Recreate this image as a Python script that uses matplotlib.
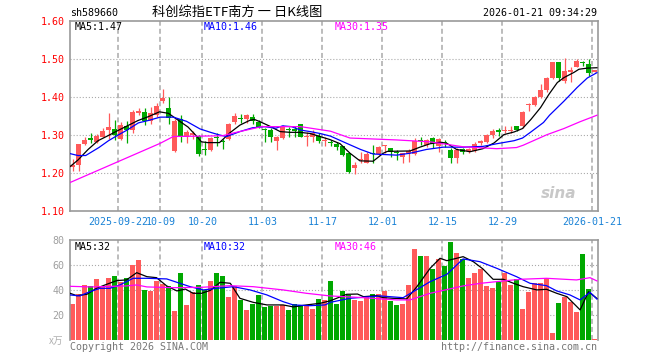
import matplotlib
matplotlib.use('Agg')
import matplotlib.pyplot as plt
import numpy as np

plt.rcParams['font.family'] = ['DejaVu Sans Mono']
plt.rcParams['lines.scale_dashes'] = False

# daily candles, 2025-09-10 .. 2026-01-21
opens = [1.215, 1.221, 1.276, 1.291, 1.282, 1.296, 1.313, 1.316, 1.290, 1.324,
         1.313, 1.357, 1.360, 1.337, 1.353, 1.390, 1.370, 1.258, 1.342, 1.296,
         1.300, 1.297, 1.263, 1.261, 1.296, 1.284, 1.289, 1.335, 1.345, 1.343,
         1.347, 1.335, 1.316, 1.313, 1.285, 1.293, 1.314, 1.316, 1.329, 1.295,
         1.294, 1.297, 1.283, 1.282, 1.276, 1.270, 1.252, 1.212, 1.233, 1.226,
         1.252, 1.249, 1.271, 1.265, 1.254, 1.241, 1.253, 1.249, 1.285, 1.275,
         1.292, 1.270, 1.281, 1.261, 1.239, 1.262, 1.257, 1.257, 1.280, 1.281,
         1.301, 1.311, 1.310, 1.310, 1.323, 1.323, 1.378, 1.379, 1.401, 1.418,
         1.450, 1.491, 1.442, 1.467, 1.480, 1.491, 1.486, 1.467]
highs = [1.236, 1.277, 1.295, 1.305, 1.302, 1.319, 1.358, 1.340, 1.335, 1.338,
         1.366, 1.372, 1.370, 1.374, 1.383, 1.422, 1.401, 1.341, 1.353, 1.313,
         1.310, 1.300, 1.285, 1.295, 1.305, 1.290, 1.332, 1.357, 1.355, 1.354,
         1.356, 1.340, 1.318, 1.318, 1.297, 1.326, 1.322, 1.324, 1.330, 1.309,
         1.313, 1.305, 1.296, 1.287, 1.282, 1.271, 1.253, 1.228, 1.256, 1.254,
         1.274, 1.270, 1.274, 1.266, 1.261, 1.253, 1.262, 1.291, 1.296, 1.289,
         1.296, 1.291, 1.287, 1.265, 1.265, 1.265, 1.266, 1.281, 1.287, 1.302,
         1.317, 1.318, 1.325, 1.325, 1.323, 1.362, 1.383, 1.402, 1.434, 1.453,
         1.491, 1.492, 1.502, 1.480, 1.499, 1.496, 1.499, 1.471]
lows = [1.205, 1.206, 1.273, 1.279, 1.280, 1.294, 1.289, 1.288, 1.287, 1.280,
        1.305, 1.353, 1.326, 1.330, 1.348, 1.383, 1.330, 1.255, 1.281, 1.280,
        1.290, 1.245, 1.248, 1.258, 1.270, 1.262, 1.287, 1.329, 1.331, 1.331,
        1.330, 1.318, 1.282, 1.281, 1.261, 1.290, 1.296, 1.294, 1.294, 1.272,
        1.282, 1.278, 1.272, 1.272, 1.260, 1.244, 1.199, 1.197, 1.226, 1.225,
        1.226, 1.247, 1.252, 1.243, 1.234, 1.226, 1.230, 1.247, 1.274, 1.268,
        1.265, 1.256, 1.269, 1.227, 1.227, 1.251, 1.252, 1.254, 1.273, 1.279,
        1.292, 1.298, 1.305, 1.305, 1.310, 1.319, 1.362, 1.376, 1.398, 1.414,
        1.447, 1.443, 1.437, 1.440, 1.478, 1.481, 1.455, 1.466]
closes = [1.222, 1.276, 1.287, 1.287, 1.298, 1.310, 1.320, 1.300, 1.327, 1.313,
          1.360, 1.364, 1.338, 1.357, 1.377, 1.398, 1.346, 1.338, 1.296, 1.309,
          1.305, 1.250, 1.260, 1.293, 1.292, 1.282, 1.329, 1.351, 1.343, 1.353,
          1.336, 1.320, 1.314, 1.294, 1.296, 1.322, 1.312, 1.311, 1.296, 1.297,
          1.304, 1.283, 1.285, 1.279, 1.268, 1.247, 1.202, 1.221, 1.235, 1.249,
          1.250, 1.269, 1.272, 1.256, 1.252, 1.252, 1.258, 1.285, 1.283, 1.287,
          1.279, 1.289, 1.279, 1.239, 1.261, 1.254, 1.262, 1.276, 1.282, 1.301,
          1.311, 1.309, 1.312, 1.314, 1.312, 1.361, 1.381, 1.401, 1.418, 1.450,
          1.491, 1.450, 1.468, 1.469, 1.495, 1.489, 1.462, 1.470]
volumes = [29.1, 36.8, 44.3, 43.5, 49.1, 43.5, 49.9, 51.5, 46.7, 49.9,
           60.3, 64.5, 40.3, 39.5, 47.5, 45.1, 43.5, 23.5, 53.9, 28.3,
           38.7, 44.3, 40.3, 47.5, 53.9, 51.5, 34.7, 43.5, 32.3, 24.3,
           29.1, 36.3, 26.7, 27.5, 27.5, 28.3, 24.3, 29.1, 28.3, 27.5,
           25.1, 33.1, 32.3, 47.5, 29.1, 39.5, 36.3, 32.3, 31.5, 34.7,
           37.1, 37.1, 39.5, 31.5, 28.3, 29.1, 44.3, 73.1, 67.5, 67.5,
           57.1, 65.1, 59.5, 78.7, 69.9, 65.1, 49.9, 53.9, 57.1, 43.5,
           41.9, 46.7, 53.9, 44.3, 49.1, 25.1, 38.7, 45.9, 45.9, 49.9,
           5.9, 29.9, 34.7, 30.7, 22.7, 69.1, 41.1, 1.1]

# moving average lines (x = candle index)
ma5_x = [-0.4, 0.9, 2.6, 4.25, 5.9, 7.6, 9.25, 10.9, 12.6, 14.5, 16, 17.6, 19.25, 20.5,
         21.5, 22.5, 24.5, 26.25, 27.9, 29.6, 30.3, 31.25, 32.9, 34.6, 36.25, 37.9, 39.6,
         41.25, 42.9, 44.6, 46.25, 47.9, 50.1, 51.8, 52.5, 56.25, 57.9, 59.6, 61.25, 62.4,
         64, 66.25, 68.4, 70.25, 71.9, 73.6, 75, 76.4, 78, 79.4, 80.8, 81.9, 83.6, 84.4,
         85.8, 87.4]
ma5_y = [1.217, 1.234, 1.262, 1.285, 1.298, 1.312, 1.325, 1.338, 1.348, 1.361, 1.357, 1.339,
         1.321, 1.300, 1.282, 1.280, 1.280, 1.306, 1.326, 1.339, 1.341, 1.335, 1.323, 1.309,
         1.307, 1.307, 1.304, 1.296, 1.288, 1.277, 1.252, 1.232, 1.231, 1.252, 1.257, 1.258,
         1.268, 1.277, 1.281, 1.278, 1.262, 1.256, 1.264, 1.279, 1.301, 1.308, 1.317, 1.341,
         1.372, 1.407, 1.438, 1.451, 1.465, 1.473, 1.476, 1.477]
ma10_x = [-0.4, 0.9, 2.2, 4.4, 6, 7.5, 9.1, 11, 12.6, 14.6, 16.8, 19, 21.25, 23, 24.5, 25.7,
          27.9, 30, 32, 33.9, 35, 36.5, 38, 39.6, 41.25, 43, 45.7, 48, 50.1, 54, 56.25, 59,
          61.8, 65.1, 68.4, 70.7, 73.6, 75, 76.4, 78.5, 79.5, 81.9, 84.1, 85.8, 87.4]
ma10_y = [1.251, 1.246, 1.246, 1.267, 1.285, 1.299, 1.313, 1.332, 1.338, 1.347, 1.347, 1.336,
          1.316, 1.307, 1.300, 1.296, 1.309, 1.319, 1.322, 1.318, 1.324, 1.322, 1.313, 1.309,
          1.304, 1.297, 1.278, 1.262, 1.250, 1.247, 1.252, 1.262, 1.268, 1.268, 1.270, 1.277,
          1.285, 1.292, 1.308, 1.333, 1.352, 1.389, 1.425, 1.450, 1.464]
ma30_x = [-0.4, 14.6, 16.8, 21, 25, 27, 29, 31.5, 38, 43, 46.25, 54, 59.6, 65.1, 70.7, 74,
          75.1, 79.1, 81.9, 84.6, 87.4]
ma30_y = [1.175, 1.278, 1.296, 1.297, 1.298, 1.306, 1.313, 1.322, 1.322, 1.310, 1.292, 1.287,
          1.282, 1.269, 1.264, 1.267, 1.273, 1.301, 1.317, 1.335, 1.352]

vma5_x = [-0.4, 0.7, 2.4, 4, 5.7, 7.4, 9, 10.7, 12.4, 14, 15.7, 17.4, 18.8, 20.1, 21.5, 23,
          24.6, 26.3, 27.9, 30.1, 32.4, 35.1, 36.8, 39, 41.25, 42.9, 45.7, 47.5, 48.5, 50.7,
          51.8, 53.5, 55.7, 57.4, 59.6, 61.25, 62.4, 64, 65.1, 66.8, 68.4, 70.1, 71.8, 73.5,
          75.1, 77.4, 79, 80.7, 82.4, 84.6, 86, 87.4]
vma5_y = [37.6, 35.7, 36.8, 41.6, 44.8, 47.8, 48.3, 54.1, 50.9, 50.1, 43.5, 39.5, 41.0, 37.6,
          37.6, 40.0, 46.4, 45.6, 33.6, 30.4, 28.3, 28.3, 26.7, 28.3, 29.6, 31.5, 36.8, 37.0,
          34.9, 35.7, 34.1, 33.6, 33.1, 42.9, 57.6, 65.6, 63.7, 65.6, 66.9, 62.9, 57.1, 48.8,
          48.8, 45.6, 42.9, 40.3, 40.8, 37.6, 34.9, 24.3, 38.9, 33.5]
vma10_x = [-0.4, 1.2, 2.9, 4.6, 6.25, 7.9, 10.1, 12.4, 15.7, 17.9, 19.6, 21.8, 24, 26.8, 29.6,
           32.4, 35.1, 36.8, 39.6, 42.1, 43, 46.25, 51.25, 55.1, 56.8, 59.6, 62.4, 65.1, 67.9,
           70.7, 74, 76.25, 79, 80.7, 82.9, 84.6, 86.25, 87.4]
vma10_y = [36.3, 35.5, 38.9, 41.6, 41.6, 44.3, 49.6, 49.6, 49.1, 45.6, 42.9, 40.3, 41.6, 42.9,
           40.3, 36.3, 30.9, 28.3, 27.7, 28.3, 30.4, 33.6, 35.5, 34.1, 38.9, 46.9, 52.8, 65.1,
           62.9, 57.6, 50.9, 45.6, 43.7, 39.5, 36.3, 32.3, 38.4, 33.0]
vma30_x = [-0.4, 3, 9, 10.7, 12.4, 17, 21.5, 26.25, 30.1, 35.1, 39, 42.9, 48.5, 54, 56.25,
           59.6, 65.1, 68, 73.5, 75.1, 79, 84, 86.25, 87.4]
vma30_y = [43.2, 42.7, 43.5, 44.3, 42.7, 42.1, 42.4, 43.7, 42.9, 40.3, 37.6, 35.5, 34.1, 32.3,
           32.3, 37.6, 43.5, 45.6, 48.3, 48.9, 49.6, 48.3, 50.1, 47.5]

date_idx = [8, 15, 22, 32, 42, 52, 62, 72, 87]
date_labels = ['2025-09-22', '10-09', '10-20', '11-03', '11-17', '12-01', '12-15', '12-29', '2026-01-21']
price_ticks = [1.10, 1.20, 1.30, 1.40, 1.50, 1.60]
vol_ticks = [20, 40, 60, 80]

RED = '#ff5a5a'
GREEN = '#00a800'
GRID = '#aaaaaa'
W, H = 660, 360


def rect(l, t, r, b):
    return [l / W, 1 - b / H, (r - l) / W, (b - t) / H]


def ftext(x, y, s, **kw):
    fig.text(x / W, 1 - y / H, s, va='center', fontsize=7.2, **kw)


fig = plt.figure(figsize=(W / 100, H / 100), dpi=100)
ax = fig.add_axes(rect(70, 21, 598, 211))
axv = fig.add_axes(rect(70, 240.3, 598, 340.3))

n = len(closes)
xs = np.arange(n)
o = np.array(opens)
c = np.array(closes)
up = c >= o
cols = [RED if u else GREEN for u in up]
grid_x = [i - 0.37 for i in date_idx]

for a in (ax, axv):
    a.set_xlim(-0.417, 87.58)
    for s in a.spines.values():
        s.set_color('#999999')
        s.set_linewidth(1.2)
    for gx in grid_x:
        a.axvline(gx, color=GRID, lw=1.1, dashes=(3.6, 2.2), zorder=0)
    a.tick_params(length=0)
axv.spines['bottom'].set_visible(False)

# price panel
ax.set_ylim(1.10, 1.60)
for p in price_ticks[1:-1]:
    ax.axhline(p, color=GRID, lw=0.8, dashes=(0.8, 1.4), zorder=0)
ax.vlines(xs, lows, highs, colors=cols, lw=0.9, zorder=2)
body_h = np.maximum(np.abs(c - o), 0.003)
ax.bar(xs, body_h, bottom=np.minimum(o, c), width=0.83, color=cols, lw=0, zorder=3)
ax.plot(ma5_x, ma5_y, color='black', lw=0.9, zorder=4)
ax.plot(ma10_x, ma10_y, color='#0000ff', lw=0.9, zorder=4)
ax.plot(ma30_x, ma30_y, color='#ff00ff', lw=0.9, zorder=4)
ax.set_yticks(price_ticks)
ax.set_yticklabels(['%.2f' % p for p in price_ticks], color='red', fontsize=7.2)
ax.tick_params(axis='y', pad=4)
ax.set_xticks(grid_x)
ax.set_xticklabels(date_labels, color='#1a82d6', fontsize=7.2)
ax.tick_params(axis='x', pad=4)
ax.text(0.925, 0.09, 'sina', transform=ax.transAxes, fontsize=11, fontweight='bold',
        style='italic', family='DejaVu Sans', color='#c8c8c8', ha='center', va='center')

# volume panel
axv.set_ylim(0, 80)
for v in vol_ticks[:-1]:
    axv.axhline(v, color=GRID, lw=0.8, dashes=(0.8, 1.4), zorder=0)
axv.bar(xs, volumes, width=0.83, color=cols, lw=0, zorder=2)
axv.plot(vma5_x, vma5_y, color='black', lw=0.9, zorder=4)
axv.plot(vma10_x, vma10_y, color='#0000ff', lw=0.9, zorder=4)
axv.plot(vma30_x, vma30_y, color='#ff00ff', lw=0.9, zorder=4)
axv.set_yticks(vol_ticks)
axv.set_yticklabels([str(v) for v in vol_ticks], color='#a0a0a0', fontsize=7.2)
axv.tick_params(axis='y', pad=4)
axv.set_xticks([])

# header and labels
ftext(70, 13, 'sh589660', ha='left')
fig.text(237 / W, 1 - 12 / H, '科创综指ETF南方 一 日K线图', ha='center', va='center',
         fontsize=9.5, family=['Noto Sans CJK SC', 'DejaVu Sans'])
ftext(597, 13, '2026-01-21 09:34:29', ha='right')
ftext(75, 27, 'MA5:1.47', ha='left', color='black')
ftext(204, 27, 'MA10:1.46', ha='left', color='#0000ff')
ftext(334.5, 27, 'MA30:1.35', ha='left', color='#ff00ff')
ftext(75, 247, 'MA5:32', ha='left', color='black')
ftext(204, 247, 'MA10:32', ha='left', color='#0000ff')
ftext(334.5, 247, 'MA30:46', ha='left', color='#ff00ff')
fig.text(63 / W, 1 - 341 / H, 'x万', ha='right', va='center', fontsize=7,
         color='#b0b0b0', family=['Noto Sans CJK SC', 'DejaVu Sans'])
ftext(70, 347, 'Copyright 2026 SINA.COM', ha='left', color='#777777')
ftext(597, 347, 'http://finance.sina.com.cn', ha='right', color='#777777')

fig.savefig('out.png', dpi=100)
